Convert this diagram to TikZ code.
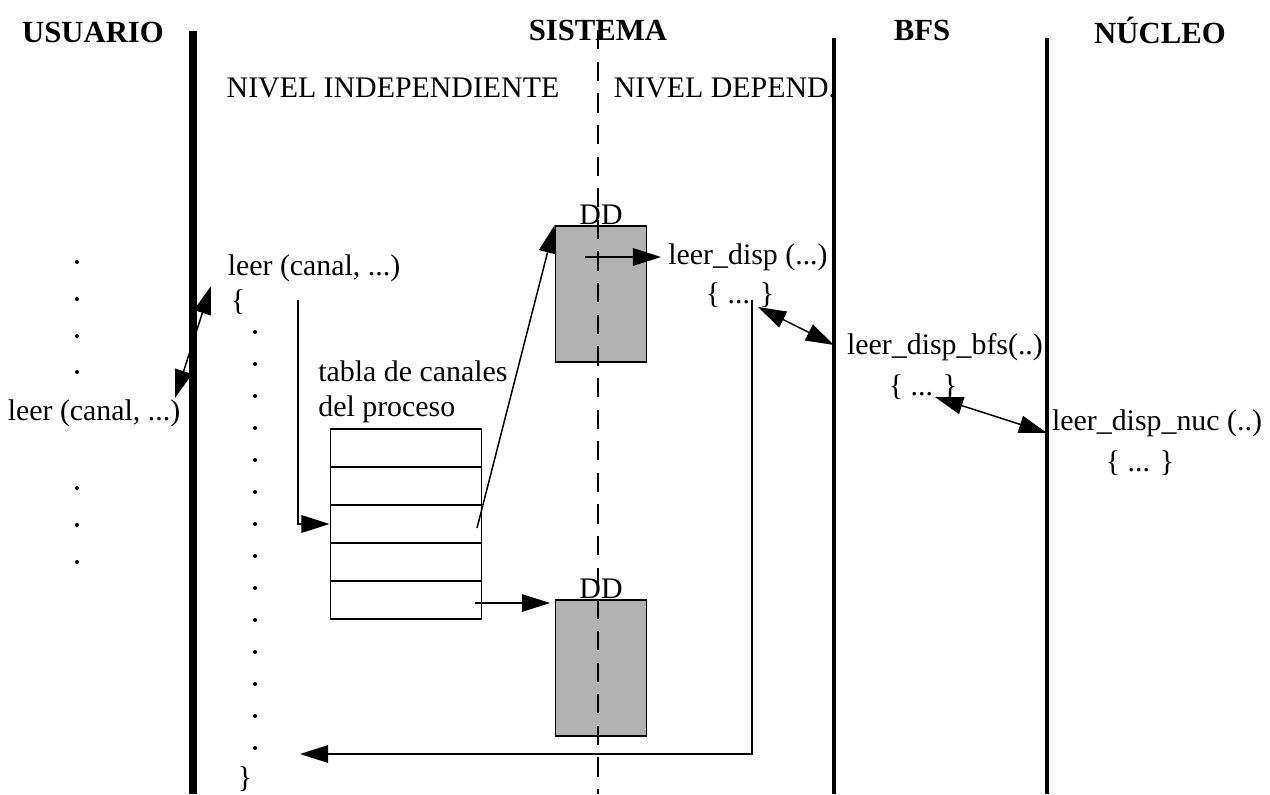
\documentclass[tikz,border=0pt]{standalone}
\usepackage{fontspec}
\setmainfont{Liberation Serif}
\usetikzlibrary{arrows.meta,positioning,calc}

\begin{document}
\begin{tikzpicture}[x=0.02cm,y=-0.02cm,>={Triangle[length=16pt,width=10pt]},
texto/.style={inner sep=0pt,font=\fontsize{17}{20}\selectfont},
titulo/.style={inner sep=0pt,font=\fontsize{17.5}{20}\selectfont\bfseries},
fila/.style={draw,line width=1.1pt,minimum width=3.02cm,minimum height=0.76cm,inner sep=0pt},
dd/.style={draw,fill=black!30,line width=1.1pt,minimum width=1.82cm,minimum height=2.72cm,inner sep=0pt},
flecha/.style={->,line width=0.85pt},
dflecha/.style={<->,line width=0.85pt},
frontera/.style={line width=2.3pt}
    ]
\useasboundingbox (0,0) rectangle (1270,794);

% cabeceras
\node[titulo] (Usuario) at (93,32) {USUARIO};
\node[titulo] (Sistema) at (598,30) {SISTEMA};
\node[titulo] (Bfs) at (922,30) {BFS};
\node[titulo] (Nucleo) at (1160,30) {NÚCLEO};
\node[texto] (NivelInd) at (393,88) {NIVEL INDEPENDIENTE};
\node[texto] (NivelDep) at (725,88) {NIVEL DEPEND.};

% nivel usuario
\foreach \y in {262,299,336,372,488,525,562}
    \fill (77,\y) circle[radius=2];
\node[texto] (LeerUsr) at (94,413) {leer (canal, ...)};

% nivel independiente
\node[texto] (LeerSis) at (314,268) {leer (canal, ...)};
\node[texto] (AbreSis) at (238,302) {\{};
\foreach \i in {0,...,13}
    \fill (255,332+32*\i) circle[radius=2];
\node[texto] (CierraSis) at (245,779) {\}};

\node[texto,align=left,anchor=west] (Tabla) at (318,392) {tabla de canales\\del proceso};
\foreach \i in {1,...,5}
    \node[fila] (fila\i) at (406,410+38*\i) {};

% descriptores de dispositivo
\node[dd,label={[inner sep=0pt,texto]above:DD}] (ddA) at (601,294) {};
\node[dd,label={[inner sep=0pt,texto]above:DD}] (ddB) at (601,668) {};

% nivel dependiente, BFS y nucleo
\node[texto] (LeerDisp) at (748,257) {leer\_disp (...)};
\node[texto] (CuerpoDisp) at (740,295) {\{ ... \}};
\node[texto] (LeerBfs) at (945,347) {leer\_disp\_bfs(..)};
\node[texto] (CuerpoBfs) at (923,387) {\{ ... \}};
\node[texto] (LeerNuc) at (1157,423) {leer\_disp\_nuc (..)};
\node[texto] (CuerpoNuc) at (1140,463) {\{ ... \}};

% fronteras
\draw[line width=5pt] (193,31) -- (193,794);
\draw[line width=0.85pt,dash pattern=on 11pt off 7pt] (598,30) -- (598,794);
\draw[frontera] (834,38) -- (834,794);
\draw[frontera] (1047,38) -- (1047,794);

\coordinate (u1) at (175,398);
\coordinate (u2) at (211,286);
\coordinate (s1) at (298,300);
\coordinate (s2) at (477,528);
\coordinate (s3) at (585,257);
\coordinate (s4) at (475,603);
\coordinate (s5) at (550,603);
\coordinate (d1) at (752,300);
\coordinate (d2) at (300,754);
\coordinate (d3) at (758,307);
\coordinate (b1) at (834,345);
\coordinate (b2) at (935,397);
\coordinate (n1) at (1047,433);

\draw[dflecha] (u1) -- (u2);
\draw[flecha] (s1) |- (fila3.west);
\draw[flecha] (s2) -- (ddA.north west);
\draw[flecha] (s3) -- ([xshift=-4]LeerDisp.west);
\draw[flecha] (s4) -- (s5);
\draw[flecha] (d1) |- (d2);
\draw[dflecha] (d3) -- (b1);
\draw[dflecha] (b2) -- (n1);
\end{tikzpicture}
\end{document}
